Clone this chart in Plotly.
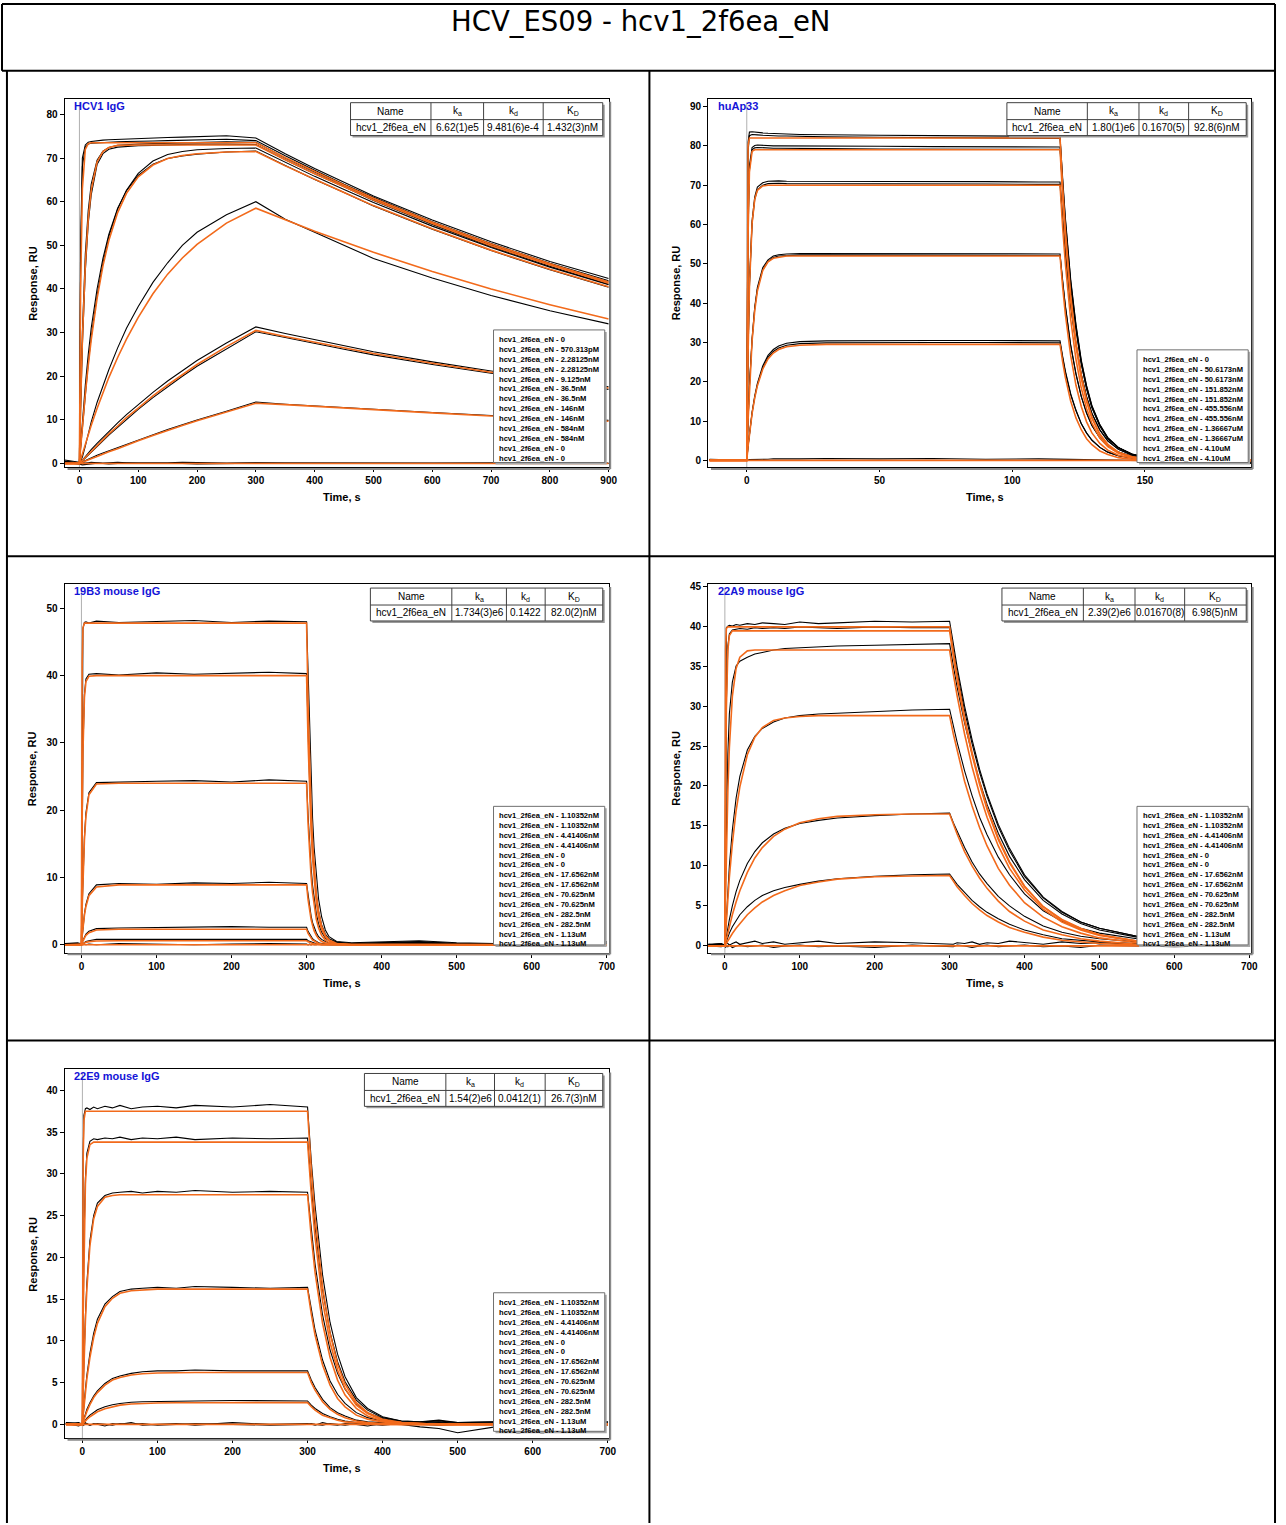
import plotly.graph_objects as go

W, H = 1286, 1525

# ---------------- Panel 1 : HCV1 IgG ----------------
P1_TIME = [-25, -10, 0, 2, 5, 10, 15, 20, 30, 40, 50, 65, 80, 100, 125, 150, 175, 200, 250, 300,
           350, 400, 450, 500, 600, 700, 800, 900]
P1_FITS = [
    [0, 0, 0, 39.6, 62.9, 72.0, 73.3, 73.5, 73.5, 73.5, 73.5, 73.5, 73.5, 73.5, 73.5, 73.5, 73.5, 73.5, 73.5, 73.5, 70.1, 66.9, 63.8, 60.8, 55.3, 50.3, 45.8, 41.6],
    [0, 0, 0, 12.9, 28.2, 45.5, 56.1, 62.6, 69.1, 71.5, 72.4, 72.9, 73.0, 73.0, 73.0, 73.0, 73.0, 73.0, 73.0, 73.0, 69.6, 66.4, 63.4, 60.4, 55.0, 49.9, 45.5, 41.3],
    [0, 0, 0, 3.5, 8.4, 15.9, 22.5, 28.3, 37.8, 45.3, 51.1, 57.5, 61.9, 65.7, 68.4, 69.9, 70.6, 71.0, 71.4, 71.5, 68.2, 65.1, 62.1, 59.1, 53.8, 48.9, 44.5, 40.5],
    [0, 0, 0, 0.9, 2.3, 4.5, 6.6, 8.7, 12.6, 16.3, 19.7, 24.3, 28.5, 33.5, 38.9, 43.4, 47.1, 50.2, 55.1, 58.5, 55.8, 53.2, 50.8, 48.4, 44.0, 40.0, 36.4, 33.1],
    [0, 0, 0, 0.3, 0.7, 1.4, 2.1, 2.8, 4.2, 5.5, 6.8, 8.6, 10.5, 12.7, 15.5, 18.0, 20.4, 22.7, 26.8, 30.5, 29.1, 27.8, 26.5, 25.2, 23.0, 20.9, 19.0, 17.3],
    [0, 0, 0, 0.1, 0.3, 0.6, 0.8, 1.1, 1.6, 2.2, 2.7, 3.4, 4.2, 5.2, 6.4, 7.6, 8.7, 9.8, 11.8, 13.8, 13.5, 13.1, 12.7, 12.3, 11.6, 10.9, 10.3, 9.7],
    [0] * 28,
]
P1_DATA = [
    [0.8, 0.5, 0.3, 50.0, 70.0, 73.0, 73.6, 73.8, 74.0, 74.1, 74.2, 74.3, 74.4, 74.5, 74.6, 74.7, 74.8, 74.9, 75.1, 74.6, 71.0, 67.6, 64.4, 61.3, 55.8, 50.8, 46.3, 42.4],
    [0.4, 0.2, 0.0, 45.0, 68.0, 72.5, 73.2, 73.4, 73.5, 73.6, 73.6, 73.7, 73.8, 73.8, 73.9, 74.0, 74.1, 74.2, 74.3, 74.0, 70.5, 67.2, 64.0, 61.0, 55.4, 50.4, 45.9, 41.9],
    [0.5, 0.3, 0.2, 14.0, 30.0, 48.0, 58.0, 64.0, 69.5, 71.6, 72.4, 72.9, 73.1, 73.2, 73.3, 73.4, 73.5, 73.6, 73.7, 73.6, 70.0, 66.8, 63.7, 60.6, 55.2, 50.1, 45.6, 41.6],
    [0.2, 0.0, 0.0, 12.0, 27.0, 44.0, 55.0, 61.5, 68.5, 71.0, 72.0, 72.5, 72.7, 72.8, 72.9, 73.0, 73.1, 73.2, 73.2, 73.1, 69.6, 66.4, 63.4, 60.3, 54.8, 49.7, 45.2, 41.1],
    [0.3, 0.2, 0.0, 4.0, 9.5, 18.0, 25.0, 31.0, 40.0, 47.0, 52.5, 58.5, 62.5, 66.0, 68.6, 69.9, 70.5, 70.9, 71.4, 71.6, 68.3, 65.1, 62.1, 59.0, 53.7, 48.8, 44.4, 40.4],
    [0.3, 0.1, 0.0, 3.5, 8.0, 16.0, 23.0, 29.0, 38.5, 46.0, 52.0, 58.3, 62.6, 66.5, 69.3, 70.8, 71.5, 71.9, 72.2, 72.3, 69.0, 65.8, 62.8, 59.8, 54.4, 49.5, 45.0, 41.0],
    [0.4, 0.3, 0.1, 0.6, 1.5, 4.0, 7.0, 9.5, 14.0, 18.0, 21.5, 26.5, 31.0, 36.0, 41.5, 46.0, 50.0, 53.0, 57.0, 60.0, 56.0, 53.0, 50.0, 47.0, 42.5, 38.5, 35.0, 32.0],
    [0.3, 0.2, 0.0, 0.3, 0.8, 1.6, 2.4, 3.2, 4.6, 6.0, 7.4, 9.3, 11.2, 13.5, 16.3, 18.9, 21.3, 23.6, 27.6, 31.3, 29.8, 28.4, 27.0, 25.6, 23.3, 21.2, 19.3, 17.6],
    [0.2, 0.0, 0.0, 0.2, 0.6, 1.2, 1.9, 2.6, 3.9, 5.2, 6.5, 8.3, 10.1, 12.4, 15.1, 17.6, 20.0, 22.3, 26.3, 30.2, 28.9, 27.5, 26.2, 24.9, 22.7, 20.7, 18.8, 17.0],
    [0.2, 0.1, 0.0, 0.2, 0.4, 0.7, 1.0, 1.3, 1.9, 2.4, 2.9, 3.6, 4.4, 5.4, 6.6, 7.8, 8.9, 10.0, 12.0, 14.1, 13.6, 13.2, 12.8, 12.4, 11.7, 11.0, 10.4, 9.9],
    [0.3, 0.1, 0.0, -0.2, -0.3, -0.2, -0.1, 0.0, 0.1, 0.0, -0.1, 0.0, 0.1, 0.0, 0.0, 0.1, 0.0, -0.1, 0.0, 0.1, 0.0, 0.0, -0.1, 0.0, 0.0, 0.1, 0.0, 0.0],
    [0.5, 0.2, 0.1, 0.3, 0.2, 0.1, 0.2, 0.3, 0.2, 0.1, 0.2, 0.3, 0.2, 0.2, 0.1, 0.2, 0.3, 0.2, 0.1, 0.2, 0.2, 0.1, 0.2, 0.1, 0.2, 0.1, 0.2, 0.1],
]
P1_LEGEND = ["0", "570.313pM", "2.28125nM", "2.28125nM", "9.125nM", "36.5nM", "36.5nM", "146nM", "146nM",
             "584nM", "584nM", "0", "0"]
P1_TABLE = ["hcv1_2f6ea_eN", "6.62(1)e5", "9.481(6)e-4", "1.432(3)nM"]

# ---------------- Panel 2 : huAp33 ----------------
P2_TIME = [-14, -5, 0, 0.5, 1, 2, 3, 4, 6, 8, 10, 12, 15, 20, 30, 50, 70, 90, 110, 118,
           119, 120, 122, 124, 126, 128, 130, 133, 136, 140, 145, 150, 160, 175, 190]
P2_FITS = [
    [0, 0, 0, 80.0, 82, 82, 82, 82, 82, 82, 82, 82, 82, 82, 82, 82, 82, 82, 82, 82, 69.4, 58.7, 42.1, 30.1, 21.6, 15.4, 11.1, 6.7, 4.1, 2.1, 0.9, 0.4, 0.1, 0, 0],
    [0, 0, 0, 57.8, 73.3, 78.6, 79, 79, 79, 79, 79, 79, 79, 79, 79, 79, 79, 79, 79, 79, 66.8, 56.6, 40.5, 29.0, 20.8, 14.9, 10.7, 6.5, 3.9, 2.0, 0.9, 0.4, 0.1, 0, 0],
    [0, 0, 0, 27.3, 44.0, 60.3, 66.4, 68.7, 69.8, 70, 70, 70, 70, 70, 70, 70, 70, 70, 70, 70, 59.2, 50.1, 35.9, 25.7, 18.4, 13.2, 9.5, 5.7, 3.5, 1.8, 0.8, 0.3, 0.1, 0, 0],
    [0, 0, 0, 10.3, 18.5, 30.4, 38.1, 43.1, 48.3, 50.5, 51.4, 51.7, 52, 52, 52, 52, 52, 52, 52, 52, 44.0, 37.2, 26.7, 19.1, 13.7, 9.8, 7.0, 4.3, 2.6, 1.3, 0.6, 0.2, 0, 0, 0],
    [0, 0, 0, 3.6, 6.7, 11.9, 15.9, 19.0, 23.2, 25.8, 27.3, 28.2, 28.9, 29.3, 29.5, 29.5, 29.5, 29.5, 29.5, 29.5, 25.0, 21.1, 15.1, 10.8, 7.8, 5.5, 4.0, 2.4, 1.5, 0.7, 0.3, 0.1, 0, 0, 0],
    [0] * 35,
]
P2_DATA = [
    [0.3, 0.2, 0.0, 81.0, 83.5, 83.6, 83.5, 83.4, 83.3, 83.2, 83.1, 83.0, 83.0, 82.9, 82.8, 82.7, 82.6, 82.5, 82.4, 82.4, 71.7, 61.8, 46.1, 34.6, 25.5, 19.0, 14.0, 9.1, 5.8, 3.3, 1.6, 0.8, 0.0, -0.4, -0.6],
    [0.2, 0.1, 0.0, 78.5, 82.6, 82.9, 82.9, 82.8, 82.7, 82.6, 82.6, 82.5, 82.5, 82.4, 82.3, 82.2, 82.1, 82.0, 81.9, 81.9, 71.0, 61.2, 45.6, 34.2, 25.2, 18.8, 13.8, 9.0, 5.7, 3.2, 1.5, 0.7, -0.1, -0.5, -0.8],
    [0.2, 0.1, 0.0, 60.0, 75.0, 79.6, 80.1, 80.2, 80.1, 80.1, 80.0, 80.0, 80.0, 79.9, 79.9, 79.9, 79.8, 79.8, 79.7, 79.7, 69.3, 59.8, 44.6, 33.5, 24.7, 18.3, 13.5, 8.8, 5.6, 3.2, 1.6, 0.8, 0.0, -0.3, -0.6],
    [0.1, 0.1, 0.0, 58.0, 73.8, 79.0, 79.5, 79.6, 79.5, 79.5, 79.4, 79.4, 79.4, 79.3, 79.3, 79.2, 79.2, 79.1, 79.1, 79.1, 68.8, 59.3, 44.3, 33.2, 24.5, 18.2, 13.4, 8.7, 5.5, 3.2, 1.6, 0.8, 0.0, -0.4, -0.7],
    [0.2, 0.1, 0.0, 28.0, 45.0, 61.0, 67.0, 69.5, 70.6, 71.0, 71.1, 71.1, 71.0, 71.0, 71.0, 70.9, 70.9, 70.9, 70.8, 70.8, 61.6, 53.1, 39.6, 29.7, 21.9, 16.3, 12.0, 7.8, 5.0, 2.8, 1.4, 0.7, 0.0, -0.3, -0.5],
    [0.1, 0.0, 0.0, 27.0, 44.0, 60.2, 66.3, 68.8, 70.0, 70.4, 70.5, 70.5, 70.4, 70.4, 70.4, 70.3, 70.3, 70.3, 70.2, 70.2, 61.1, 52.7, 39.3, 29.5, 21.8, 16.1, 11.9, 7.7, 4.9, 2.8, 1.4, 0.7, 0.0, -0.3, -0.6],
    [0.1, 0.1, 0.0, 10.5, 19.0, 31.0, 39.0, 44.0, 49.0, 51.0, 52.0, 52.3, 52.5, 52.6, 52.6, 52.6, 52.5, 52.5, 52.5, 52.5, 45.7, 39.4, 29.4, 22.1, 16.3, 12.1, 8.9, 5.8, 3.7, 2.1, 1.1, 0.5, 0.0, -0.2, -0.4],
    [0.0, 0.0, 0.0, 10.0, 18.5, 30.5, 38.5, 43.5, 48.5, 50.6, 51.6, 52.0, 52.1, 52.2, 52.2, 52.2, 52.1, 52.1, 52.1, 52.1, 45.3, 39.1, 29.2, 21.9, 16.2, 12.0, 8.9, 5.7, 3.6, 2.1, 1.0, 0.5, 0.0, -0.3, -0.5],
    [0.1, 0.0, 0.0, 3.8, 7.0, 12.3, 16.4, 19.6, 24.0, 26.7, 28.2, 29.1, 29.8, 30.2, 30.4, 30.5, 30.5, 30.5, 30.4, 30.4, 26.4, 22.8, 17.0, 12.8, 9.4, 7.0, 5.2, 3.3, 2.1, 1.2, 0.6, 0.3, 0.0, -0.2, -0.4],
    [0.0, 0.0, 0.0, 3.6, 6.8, 12.0, 16.0, 19.2, 23.5, 26.2, 27.7, 28.6, 29.3, 29.7, 29.9, 30.0, 30.0, 30.0, 29.9, 29.9, 26.0, 22.4, 16.7, 12.6, 9.3, 6.9, 5.1, 3.3, 2.1, 1.2, 0.6, 0.3, 0.0, -0.3, -0.5],
    [0.0, 0.0, 0.0, 0.1, 0.2, 0.2, 0.3, 0.3, 0.2, 0.3, 0.4, 0.4, 0.3, 0.4, 0.5, 0.4, 0.5, 0.3, 0.4, 0.3, 0.3, 0.3, 0.2, 0.3, 0.2, 0.2, 0.1, 0.2, 0.1, 0.0, 0.0, -0.1, -0.2, -0.3, -0.5],
]
P2_LEGEND = ["0", "50.6173nM", "50.6173nM", "151.852nM", "151.852nM", "455.556nM", "455.556nM",
             "1.36667uM", "1.36667uM", "4.10uM", "4.10uM"]
P2_TABLE = ["hcv1_2f6ea_eN", "1.80(1)e6", "0.1670(5)", "92.8(6)nM"]

# ---------------- Panel 3 : 19B3 mouse IgG ----------------
P3_TIME = [-22, -5, 0, 1, 2, 4, 6, 10, 20, 50, 100, 150, 200, 250, 300,
           302, 304, 306, 308, 310, 313, 316, 320, 325, 330, 340, 360, 400, 450, 500, 550, 600, 650, 700]
P3_FITS = [
    [0, 0, 0, 42.0, 47.1, 47.8, 47.8, 47.8, 47.8, 47.8, 47.8, 47.8, 47.8, 47.8, 47.8, 35.9, 27.1, 20.4, 15.3, 11.5, 7.5, 4.9, 2.8, 1.4, 0.7, 0.2, 0, 0, 0, 0, 0, 0, 0, 0],
    [0, 0, 0, 18.7, 28.6, 36.8, 39.1, 39.9, 40.0, 40.0, 40.0, 40.0, 40.0, 40.0, 40.0, 30.1, 22.6, 17.0, 12.8, 9.6, 6.3, 4.1, 2.3, 1.2, 0.6, 0.1, 0, 0, 0, 0, 0, 0, 0, 0],
    [0, 0, 0, 5.6, 9.8, 15.6, 19.1, 22.3, 23.9, 24.0, 24.0, 24.0, 24.0, 24.0, 24.0, 18.0, 13.6, 10.2, 7.7, 5.8, 3.8, 2.5, 1.4, 0.7, 0.3, 0.1, 0, 0, 0, 0, 0, 0, 0, 0],
    [0, 0, 0, 1.4, 2.6, 4.4, 5.7, 7.3, 8.6, 8.9, 8.9, 8.9, 8.9, 8.9, 8.9, 6.7, 5.0, 3.8, 2.9, 2.1, 1.4, 0.9, 0.5, 0.3, 0.1, 0, 0, 0, 0, 0, 0, 0, 0, 0],
    [0, 0, 0, 0.3, 0.6, 1.0, 1.4, 1.8, 2.2, 2.3, 2.3, 2.3, 2.3, 2.3, 2.3, 1.7, 1.3, 1.0, 0.7, 0.6, 0.4, 0.2, 0.1, 0.1, 0, 0, 0, 0, 0, 0, 0, 0, 0, 0],
    [0, 0, 0, 0.1, 0.15, 0.27, 0.36, 0.47, 0.57, 0.6, 0.6, 0.6, 0.6, 0.6, 0.6, 0.45, 0.34, 0.26, 0.19, 0.14, 0.09, 0.06, 0.03, 0.02, 0, 0, 0, 0, 0, 0, 0, 0, 0, 0],
    [0] * 34,
]
P3_DATA = [
    [0.2, 0.3, 0.1, 40.0, 47.0, 47.9, 48.0, 47.8, 48.1, 47.9, 48.0, 48.2, 47.9, 48.1, 48.0, 40.0, 31.5, 24.5, 18.8, 14.5, 10.0, 6.8, 4.2, 2.2, 1.2, 0.5, 0.3, 0.4, 0.6, 0.3, 0.2, 0.4, 0.3, 0.5],
    [0.1, 0.2, 0.0, 19.0, 29.0, 37.2, 39.5, 40.2, 40.3, 40.1, 40.4, 40.2, 40.3, 40.5, 40.3, 31.5, 24.5, 18.7, 14.3, 11.0, 7.4, 5.0, 3.0, 1.6, 0.9, 0.4, 0.2, 0.3, 0.5, 0.2, 0.1, 0.3, 0.2, 0.4],
    [0.2, 0.1, 0.0, 5.8, 10.2, 16.0, 19.6, 22.6, 24.1, 24.2, 24.3, 24.4, 24.2, 24.5, 24.3, 19.2, 15.0, 11.5, 8.8, 6.8, 4.6, 3.1, 1.9, 1.0, 0.6, 0.3, 0.2, 0.3, 0.4, 0.2, 0.1, 0.3, 0.2, 0.3],
    [0.1, 0.2, 0.0, 1.5, 2.8, 4.6, 6.0, 7.6, 8.9, 9.1, 9.0, 9.2, 9.1, 9.3, 9.1, 7.2, 5.6, 4.3, 3.3, 2.6, 1.8, 1.2, 0.8, 0.5, 0.3, 0.2, 0.1, 0.2, 0.3, 0.1, 0.1, 0.2, 0.1, 0.2],
    [0.1, 0.0, 0.0, 0.4, 0.7, 1.2, 1.6, 2.0, 2.4, 2.5, 2.6, 2.6, 2.7, 2.6, 2.6, 2.0, 1.6, 1.2, 0.9, 0.7, 0.5, 0.3, 0.2, 0.1, 0.1, 0.1, 0.0, 0.1, 0.2, 0.0, 0.0, 0.1, 0.0, 0.1],
    [0.0, 0.1, 0.0, 0.1, 0.2, 0.4, 0.5, 0.6, 0.8, 0.8, 0.8, 0.9, 0.8, 0.8, 0.8, 0.6, 0.5, 0.4, 0.3, 0.2, 0.15, 0.1, 0.05, 0.0, 0.0, 0.0, 0.0, 0.1, 0.1, 0.0, 0.0, 0.0, 0.0, 0.0],
    [0.1, 0.0, 0.0, 0.0, 0.0, 0.1, 0.0, 0.1, 0.0, 0.2, 0.1, 0.0, 0.1, 0.2, 0.1, 0.0, 0.1, 0.0, 0.1, 0.0, 0.0, 0.1, 0.0, 0.0, 0.1, 0.0, 0.1, 0.0, 0.2, 0.1, 0.0, 0.1, 0.0, 0.1],
]
P3_LEGEND = ["1.10352nM", "1.10352nM", "4.41406nM", "4.41406nM", "0", "0", "17.6562nM", "17.6562nM",
             "70.625nM", "70.625nM", "282.5nM", "282.5nM", "1.13uM", "1.13uM"]
P3_TABLE = ["hcv1_2f6ea_eN", "1.734(3)e6", "0.1422", "82.0(2)nM"]

# ---------------- Panel 4 : 22A9 mouse IgG ----------------
P4_TIME = [-22, -5, 0, 1, 2, 4, 6, 10, 15, 20, 30, 40, 50, 65, 80, 100, 125, 150, 200, 250, 300,
           305, 310, 320, 330, 340, 350, 365, 380, 400, 425, 450, 475, 500, 550, 600, 650, 700]
P4_FITS = [
    [0, 0, 0, 37.1, 39.7, 39.9, 39.9, 39.9, 39.9, 39.9, 39.9, 39.9, 39.9, 39.9, 39.9, 39.9, 39.9, 39.9, 39.9, 39.9, 39.9, 36.7, 33.8, 28.6, 24.2, 20.5, 17.3, 13.5, 10.5, 7.5, 4.9, 3.3, 2.2, 1.4, 0.6, 0.3, 0.1, 0],
    [0, 0, 0, 19.7, 29.6, 37.0, 38.8, 39.4, 39.4, 39.4, 39.4, 39.4, 39.4, 39.4, 39.4, 39.4, 39.4, 39.4, 39.4, 39.4, 39.4, 36.2, 33.3, 28.2, 23.9, 20.2, 17.1, 13.3, 10.4, 7.4, 4.9, 3.2, 2.1, 1.4, 0.6, 0.3, 0.1, 0],
    [0, 0, 0, 6.3, 11.4, 19.4, 24.8, 31.2, 34.7, 36.1, 36.9, 37.0, 37.0, 37.0, 37.0, 37.0, 37.0, 37.0, 37.0, 37.0, 37.0, 34.0, 31.3, 26.5, 22.4, 19.0, 16.1, 12.5, 9.7, 7.0, 4.6, 3.0, 2.0, 1.3, 0.6, 0.3, 0.1, 0],
    [0, 0, 0, 1.6, 3.2, 6.0, 8.6, 12.8, 16.9, 19.9, 23.9, 26.1, 27.3, 28.2, 28.5, 28.7, 28.8, 28.8, 28.8, 28.8, 28.8, 26.5, 24.4, 20.6, 17.5, 14.8, 12.5, 9.7, 7.6, 5.4, 3.6, 2.4, 1.6, 1.0, 0.4, 0.2, 0.1, 0],
    [0, 0, 0, 0.45, 0.88, 1.7, 2.5, 3.9, 5.5, 6.9, 9.2, 11.0, 12.3, 13.7, 14.6, 15.4, 15.9, 16.2, 16.4, 16.5, 16.5, 15.2, 14.0, 11.8, 10.0, 8.5, 7.2, 5.6, 4.3, 3.1, 2.0, 1.4, 0.9, 0.6, 0.2, 0.1, 0, 0],
    [0, 0, 0, 0.17, 0.34, 0.67, 0.99, 1.55, 2.2, 2.8, 3.9, 4.75, 5.5, 6.3, 6.9, 7.55, 8.0, 8.35, 8.65, 8.75, 8.8, 8.1, 7.4, 6.3, 5.3, 4.5, 3.8, 3.0, 2.3, 1.7, 1.1, 0.7, 0.5, 0.3, 0.1, 0.1, 0, 0],
    [0] * 38,
]
P4_DATA = [
    [0.2, 0.3, 0.1, 37.5, 39.8, 40.0, 40.1, 40.0, 40.2, 40.1, 40.3, 40.2, 40.4, 40.3, 40.2, 40.5, 40.3, 40.4, 40.6, 40.5, 40.6, 37.8, 34.9, 30.0, 25.8, 22.1, 19.0, 15.2, 12.2, 8.9, 6.1, 4.3, 3.0, 2.2, 1.2, 0.6, 0.4, 0.2],
    [0.1, 0.2, 0.0, 20.0, 30.5, 37.5, 39.0, 39.5, 39.6, 39.7, 39.6, 39.8, 39.7, 39.8, 39.7, 39.9, 39.8, 39.7, 39.9, 39.8, 39.8, 37.0, 34.2, 29.4, 25.3, 21.7, 18.7, 14.9, 11.9, 8.7, 6.0, 4.2, 3.0, 2.2, 1.2, 0.6, 0.4, 0.2],
    [0.2, 0.1, 0.0, 8.0, 15.0, 24.0, 29.0, 33.0, 35.0, 35.6, 36.1, 36.5, 36.7, 37.0, 37.2, 37.3, 37.4, 37.5, 37.6, 37.7, 37.8, 35.0, 32.4, 27.9, 24.0, 20.6, 17.7, 14.1, 11.2, 8.3, 5.7, 4.0, 2.8, 2.0, 1.1, 0.5, 0.3, 0.1],
    [0.1, 0.2, 0.0, 2.0, 4.0, 7.2, 10.0, 14.5, 18.5, 21.2, 24.5, 26.2, 27.2, 28.0, 28.5, 28.8, 29.0, 29.1, 29.3, 29.5, 29.6, 27.5, 25.5, 21.9, 18.8, 16.1, 13.9, 11.1, 8.9, 6.5, 4.4, 3.1, 2.2, 1.6, 0.9, 0.4, 0.3, 0.1],
    [0.1, 0.0, 0.0, 0.6, 1.2, 2.3, 3.3, 5.0, 6.8, 8.2, 10.3, 11.8, 12.9, 14.0, 14.7, 15.3, 15.7, 16.0, 16.3, 16.5, 16.6, 15.4, 14.3, 12.3, 10.5, 9.0, 7.8, 6.2, 5.0, 3.7, 2.5, 1.7, 1.2, 0.9, 0.5, 0.2, 0.2, 0.1],
    [0.0, 0.1, 0.0, 0.3, 0.6, 1.1, 1.6, 2.4, 3.2, 3.9, 4.9, 5.7, 6.3, 6.9, 7.3, 7.7, 8.1, 8.4, 8.7, 8.9, 9.0, 8.4, 7.7, 6.7, 5.7, 4.9, 4.2, 3.4, 2.7, 2.0, 1.4, 0.9, 0.7, 0.5, 0.3, 0.1, 0.1, 0.0],
    [0.1, 0.3, 0.0, 0.2, 0.4, 0.3, 0.1, 0.3, 0.5, 0.2, 0.4, 0.6, 0.3, 0.5, 0.2, 0.4, 0.6, 0.3, 0.5, 0.4, 0.3, 0.2, 0.4, 0.3, 0.5, 0.2, 0.4, 0.3, 0.6, 0.4, 0.2, 0.5, 0.3, 0.4, 0.2, 0.3, 0.1, 0.2],
    [0.0, -0.1, 0.0, -0.2, 0.0, -0.1, 0.1, -0.2, 0.0, 0.1, -0.1, 0.0, 0.1, -0.2, 0.0, 0.1, -0.1, 0.0, -0.2, 0.1, 0.0, -0.1, 0.1, 0.0, -0.2, 0.0, 0.1, -0.1, 0.0, 0.1, -0.1, 0.0, -0.2, 0.1, 0.0, -0.1, 0.0, 0.1],
]
P4_LEGEND = P3_LEGEND
P4_TABLE = ["hcv1_2f6ea_eN", "2.39(2)e6", "0.01670(8)", "6.98(5)nM"]

# ---------------- Panel 5 : 22E9 mouse IgG ----------------
P5_TIME = P4_TIME
P5_FITS = [
    [0, 0, 0, 31.6, 36.4, 37.5, 37.5, 37.5, 37.5, 37.5, 37.5, 37.5, 37.5, 37.5, 37.5, 37.5, 37.5, 37.5, 37.5, 37.5, 37.5, 30.5, 24.8, 16.5, 10.9, 7.2, 4.8, 2.6, 1.4, 0.6, 0.2, 0.1, 0, 0, 0, 0, 0, 0],
    [0, 0, 0, 12.8, 20.8, 28.8, 31.9, 33.5, 33.8, 33.8, 33.8, 33.8, 33.8, 33.8, 33.8, 33.8, 33.8, 33.8, 33.8, 33.8, 33.8, 27.5, 22.4, 14.8, 9.8, 6.5, 4.3, 2.3, 1.3, 0.5, 0.2, 0.1, 0, 0, 0, 0, 0, 0],
    [0, 0, 0, 3.8, 7.1, 12.4, 16.3, 21.4, 24.6, 26.1, 27.2, 27.4, 27.5, 27.5, 27.5, 27.5, 27.5, 27.5, 27.5, 27.5, 27.5, 22.4, 18.2, 12.1, 8.0, 5.3, 3.5, 1.9, 1.0, 0.4, 0.2, 0.1, 0, 0, 0, 0, 0, 0],
    [0, 0, 0, 1.07, 2.1, 3.9, 5.5, 8.0, 10.4, 12.1, 14.1, 15.1, 15.7, 16.0, 16.1, 16.2, 16.2, 16.2, 16.2, 16.2, 16.2, 13.2, 10.7, 7.1, 4.7, 3.1, 2.1, 1.1, 0.6, 0.3, 0.1, 0, 0, 0, 0, 0, 0, 0],
    [0, 0, 0, 0.29, 0.57, 1.1, 1.55, 2.36, 3.2, 3.8, 4.7, 5.3, 5.6, 5.9, 6.05, 6.15, 6.2, 6.2, 6.2, 6.2, 6.2, 5.0, 4.1, 2.7, 1.8, 1.2, 0.8, 0.4, 0.2, 0.1, 0, 0, 0, 0, 0, 0, 0, 0],
    [0, 0, 0, 0.11, 0.22, 0.41, 0.59, 0.91, 1.24, 1.5, 1.88, 2.13, 2.3, 2.44, 2.52, 2.56, 2.59, 2.6, 2.6, 2.6, 2.6, 2.1, 1.7, 1.1, 0.8, 0.5, 0.3, 0.2, 0.1, 0, 0, 0, 0, 0, 0, 0, 0, 0],
    [0] * 38,
]
P5_DATA = [
    [0.2, 0.1, 0.0, 32.0, 37.0, 37.8, 37.9, 37.7, 38.0, 37.8, 38.1, 37.9, 38.2, 37.8, 38.0, 38.1, 37.9, 38.2, 38.0, 38.3, 38.0, 31.5, 26.2, 17.9, 12.2, 8.4, 5.7, 3.2, 1.9, 0.9, 0.4, 0.3, 0.5, 0.2, 0.3, 0.4, 0.2, 0.3],
    [0.1, 0.2, 0.0, 13.5, 21.5, 29.5, 32.5, 33.9, 34.2, 34.1, 34.3, 34.2, 34.4, 34.1, 34.3, 34.2, 34.4, 34.1, 34.3, 34.2, 34.3, 28.4, 23.6, 16.1, 11.0, 7.5, 5.1, 2.9, 1.7, 0.8, 0.4, 0.3, 0.4, 0.2, 0.3, 0.3, 0.2, 0.3],
    [0.2, 0.0, 0.0, 4.2, 7.6, 13.0, 17.0, 22.0, 25.0, 26.5, 27.4, 27.7, 27.8, 27.9, 27.7, 27.9, 27.8, 28.0, 27.8, 27.9, 27.8, 23.1, 19.2, 13.1, 8.9, 6.1, 4.2, 2.4, 1.4, 0.7, 0.3, 0.2, 0.3, 0.1, 0.2, 0.3, 0.1, 0.2],
    [0.1, 0.1, 0.0, 1.2, 2.3, 4.2, 5.9, 8.5, 10.9, 12.6, 14.4, 15.3, 15.9, 16.2, 16.3, 16.4, 16.3, 16.5, 16.4, 16.3, 16.4, 13.6, 11.3, 7.7, 5.2, 3.6, 2.5, 1.4, 0.8, 0.4, 0.2, 0.1, 0.2, 0.1, 0.1, 0.2, 0.0, 0.1],
    [0.1, 0.0, 0.0, 0.35, 0.7, 1.3, 1.8, 2.6, 3.4, 4.0, 4.9, 5.5, 5.8, 6.1, 6.3, 6.4, 6.4, 6.5, 6.4, 6.4, 6.4, 5.3, 4.4, 3.0, 2.0, 1.4, 1.0, 0.5, 0.3, 0.2, 0.1, 0.0, 0.1, 0.0, 0.1, 0.0, 0.0, 0.1],
    [0.0, 0.1, 0.0, 0.15, 0.3, 0.55, 0.75, 1.1, 1.45, 1.75, 2.1, 2.35, 2.5, 2.65, 2.7, 2.75, 2.8, 2.8, 2.85, 2.8, 2.8, 2.3, 1.9, 1.3, 0.9, 0.6, 0.4, 0.2, 0.1, 0.1, 0.0, 0.0, 0.0, 0.0, 0.0, 0.0, 0.0, 0.0],
    [0.1, -0.2, 0.0, 0.1, -0.1, 0.2, 0.0, -0.1, 0.1, 0.0, -0.2, 0.1, 0.0, 0.2, -0.1, 0.0, 0.1, -0.1, 0.2, 0.0, 0.1, 0.0, -0.1, 0.2, 0.0, -0.1, 0.1, 0.0, -0.2, 0.1, 0.0, -0.3, -0.5, -1.0, -0.3, 0.1, 0.0, -0.1],
    [0.0, 0.1, 0.0, -0.1, 0.1, 0.0, 0.1, -0.1, 0.0, 0.1, 0.0, -0.1, 0.1, 0.0, 0.1, -0.1, 0.0, 0.1, 0.0, -0.1, 0.0, 0.1, 0.0, -0.1, 0.1, 0.0, -0.1, 0.1, 0.0, -0.1, 0.1, 0.0, -0.1, 0.0, 0.1, -0.1, 0.0, 0.1],
]
P5_LEGEND = P3_LEGEND
P5_TABLE = ["hcv1_2f6ea_eN", "1.54(2)e6", "0.0412(1)", "26.7(3)nM"]

TITLE = "HCV_ES09 - hcv1_2f6ea_eN"
PANEL_NAMES = ["HCV1 IgG", "huAp33", "19B3 mouse IgG", "22A9 mouse IgG", "22E9 mouse IgG"]
TABLE_HEADER = ["Name", "k<sub>a</sub>", "k<sub>d</sub>", "K<sub>D</sub>"]
LEGEND_PREFIX = "hcv1_2f6ea_eN - "

# ---------------- layout geometry (pixels) ----------------
def fx(px):
    return px / W


def fy(py):
    return 1 - py / H


ORANGE = "#f26a1b"
FONT = "Liberation Sans, Arial, sans-serif"
NARROW = "Liberation Sans Narrow, Arial Narrow, Liberation Sans, Arial, sans-serif"

SPECS = [
    dict(time=P1_TIME, fits=P1_FITS, data=P1_DATA, legend=P1_LEGEND, table=P1_TABLE,
         box=(65, 96, 613, 466), xr=[-25.3, 900], yr=[-0.9, 83.6], xd=100, yd=10,
         tcols=[353, 434, 487, 547, 607], trows=[100, 117, 133], leg=(497, 328, 609, 461)),
    dict(time=P2_TIME, fits=P2_FITS, data=P2_DATA, legend=P2_LEGEND, table=P2_TABLE,
         box=(713, 96, 1260, 466), xr=[-14.6, 190], yr=[-1.8, 92.0], xd=50, yd=10,
         tcols=[1014, 1095, 1147, 1197, 1255], trows=[100, 117, 133], leg=(1145, 348, 1257, 461)),
    dict(time=P3_TIME, fits=P3_FITS, data=P3_DATA, legend=P3_LEGEND, table=P3_TABLE,
         box=(65, 583, 613, 953), xr=[-22.5, 702.6], yr=[-1.2, 53.6], xd=100, yd=10,
         tcols=[373, 455, 510, 549, 607], trows=[587, 604, 620], leg=(497, 806, 609, 945)),
    dict(time=P4_TIME, fits=P4_FITS, data=P4_DATA, legend=P4_LEGEND, table=P4_TABLE,
         box=(713, 583, 1260, 953), xr=[-22.5, 702.6], yr=[-0.87, 45.25], xd=100, yd=5,
         tcols=[1009, 1091, 1143, 1193, 1255], trows=[587, 604, 620], leg=(1145, 806, 1257, 945)),
    dict(time=P5_TIME, fits=P5_FITS, data=P5_DATA, legend=P5_LEGEND, table=P5_TABLE,
         box=(65, 1070, 613, 1440), xr=[-23.8, 701.3], yr=[-1.67, 42.5], xd=100, yd=5,
         tcols=[367, 449, 498, 549, 607], trows=[1074, 1091, 1107], leg=(497, 1294, 609, 1433)),
]

fig = go.Figure()
shapes = []
annotations = []

for i, s in enumerate(SPECS):
    n = i + 1
    xa = "x" if n == 1 else f"x{n}"
    ya = "y" if n == 1 else f"y{n}"
    for d in s["data"]:
        fig.add_trace(go.Scatter(x=s["time"], y=d, mode="lines", xaxis=xa, yaxis=ya,
                                 line=dict(color="black", width=1.1), hoverinfo="skip", showlegend=False))
    for f in s["fits"]:
        fig.add_trace(go.Scatter(x=s["time"], y=f, mode="lines", xaxis=xa, yaxis=ya,
                                 line=dict(color=ORANGE, width=1.6), hoverinfo="skip", showlegend=False))
    x0, y0, x1, y1 = s["box"]
    axis_common = dict(showline=True, mirror=True, linecolor="black", linewidth=1, ticks="outside",
                       ticklen=4, tickwidth=1, tickcolor="black", showgrid=False, zeroline=False,
                       tickfont=dict(family=FONT, size=10, color="black", weight="bold"), fixedrange=True)
    fig.update_layout(**{
        ("xaxis" if n == 1 else f"xaxis{n}"): dict(domain=[fx(x0), fx(x1)], range=s["xr"], dtick=s["xd"],
                                                   tick0=0, anchor=ya, **axis_common),
        ("yaxis" if n == 1 else f"yaxis{n}"): dict(domain=[fy(y1), fy(y0)], range=s["yr"], dtick=s["yd"],
                                                   tick0=0, anchor=xa, **axis_common),
    })
    # injection-start marker
    shapes.append(dict(type="line", xref=xa, yref=f"{ya} domain", x0=0, x1=0, y0=0, y1=0.99,
                       line=dict(color="#b0b0b0", width=1), layer="below"))
    # frame shadow
    shapes.append(dict(type="line", xref="paper", yref="paper", x0=fx(x1 + 1.5), x1=fx(x1 + 1.5),
                       y0=fy(y0 + 3), y1=fy(y1 + 1.5), line=dict(color="#8a8a8a", width=2)))
    shapes.append(dict(type="line", xref="paper", yref="paper", x0=fx(x0 + 3), x1=fx(x1 + 1.5),
                       y0=fy(y1 + 1.5), y1=fy(y1 + 1.5), line=dict(color="#8a8a8a", width=2)))
    # axis titles
    annotations.append(dict(text="<b>Time, s</b>", xref="paper", yref="paper", x=fx((x0 + x1) / 2 + 5),
                            y=fy(y1 + 30), xanchor="center", yanchor="middle", showarrow=False,
                            font=dict(family=FONT, size=11, color="black")))
    annotations.append(dict(text="<b>Response, RU</b>", xref="paper", yref="paper", x=fx(x0 - 32),
                            y=fy((y0 + y1) / 2), xanchor="center", yanchor="middle", textangle=-90,
                            showarrow=False, font=dict(family=FONT, size=11, color="black")))
    # panel name
    annotations.append(dict(text=f"<b>{PANEL_NAMES[i]}</b>", xref="paper", yref="paper", x=fx(x0 + 8),
                            y=fy(y0 + 7), xanchor="left", yanchor="middle", showarrow=False,
                            font=dict(family=FONT, size=11, color="#1414d8")))
    # parameter table
    tc, tr = s["tcols"], s["trows"]
    shapes.append(dict(type="rect", xref="paper", yref="paper", x0=fx(tc[0] + 2), x1=fx(tc[-1] + 2),
                       y0=fy(tr[-1] + 2), y1=fy(tr[0] + 2), line=dict(width=0), fillcolor="#9a9a9a",
                       layer="above"))
    shapes.append(dict(type="rect", xref="paper", yref="paper", x0=fx(tc[0]), x1=fx(tc[-1]),
                       y0=fy(tr[-1]), y1=fy(tr[0]), line=dict(color="#404040", width=1), fillcolor="white",
                       layer="above"))
    shapes.append(dict(type="line", xref="paper", yref="paper", x0=fx(tc[0]), x1=fx(tc[-1]),
                       y0=fy(tr[1]), y1=fy(tr[1]), line=dict(color="#404040", width=1), layer="above"))
    for c in tc[1:-1]:
        shapes.append(dict(type="line", xref="paper", yref="paper", x0=fx(c), x1=fx(c),
                           y0=fy(tr[0]), y1=fy(tr[-1]), line=dict(color="#404040", width=1), layer="above"))
    for k in range(4):
        cx = (tc[k] + tc[k + 1]) / 2
        annotations.append(dict(text=TABLE_HEADER[k], xref="paper", yref="paper", x=fx(cx),
                                y=fy((tr[0] + tr[1]) / 2), xanchor="center", yanchor="middle", showarrow=False,
                                font=dict(family=FONT, size=10, color="black")))
        annotations.append(dict(text=s["table"][k], xref="paper", yref="paper", x=fx(cx),
                                y=fy((tr[1] + tr[2]) / 2), xanchor="center", yanchor="middle", showarrow=False,
                                font=dict(family=FONT, size=10, color="black")))
    # curve legend box
    lx0, ly0, lx1, ly1 = s["leg"]
    shapes.append(dict(type="rect", xref="paper", yref="paper", x0=fx(lx0 + 2), x1=fx(lx1 + 2),
                       y0=fy(ly1 + 2), y1=fy(ly0 + 2), line=dict(width=0), fillcolor="#a8a8a8", layer="above"))
    shapes.append(dict(type="rect", xref="paper", yref="paper", x0=fx(lx0), x1=fx(lx1),
                       y0=fy(ly1), y1=fy(ly0), line=dict(color="#707070", width=1), fillcolor="white",
                       layer="above"))
    annotations.append(dict(text="<br>".join(LEGEND_PREFIX + c for c in s["legend"]), xref="paper",
                            yref="paper", x=fx(lx0 + 4), y=fy(ly0 + 3), xanchor="left", yanchor="top",
                            align="left", showarrow=False,
                            font=dict(family=NARROW, size=7.6, color="black", weight="bold")))

# page grid (table cells)
GRID = [
    (2, 1, 2, 68), (2, 1, 1284, 1), (2, 68, 1284, 68), (1284, 1, 1284, 1525), (7, 68, 7, 1525),
    (7, 555, 1284, 555), (7, 1041, 1284, 1041), (654, 68, 654, 1525),
]
for gx0, gy0, gx1, gy1 in GRID:
    shapes.append(dict(type="line", xref="paper", yref="paper", x0=fx(gx0), x1=fx(gx1), y0=fy(gy0),
                       y1=fy(gy1), line=dict(color="black", width=2), layer="above"))

annotations.append(dict(text=TITLE, xref="paper", yref="paper", x=fx(645), y=fy(19), xanchor="center",
                        yanchor="middle", showarrow=False,
                        font=dict(family="DejaVu Sans, Verdana, sans-serif", size=27.5, color="black")))

fig.update_layout(width=W, height=H, margin=dict(l=0, r=0, t=0, b=0), paper_bgcolor="white",
                  plot_bgcolor="white", showlegend=False, shapes=shapes, annotations=annotations)

fig.write_html("out.html", config={"displayModeBar": False})
